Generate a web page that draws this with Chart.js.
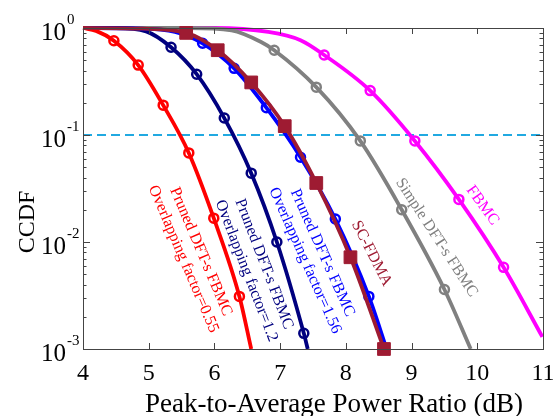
<!DOCTYPE html>
<html>
<head>
<meta charset="utf-8">
<script src="https://cdn.jsdelivr.net/npm/chart.js@4/dist/chart.umd.min.js"></script>
<style>
    html, body { margin: 0; padding: 0; background: #fff; }
</style>
</head>
<body>
<canvas id="ccdfChart" width="553" height="416"></canvas>
<script>
// axis ticks
const xTicks = [4, 5, 6, 7, 8, 9, 10, 11];
const yTicks = [1, 0.1, 0.01, 0.001];
const yTickExp = ['0', '-1', '-2', '-3'];
const threshold = 0.1;

// curves (PAPR in dB, CCDF)
const pruned055X = [4, 4.2, 4.47, 4.84, 5.22, 5.61, 5.99, 6.38, 6.56];
const pruned055Y = [1, 0.94, 0.76, 0.45, 0.19, 0.068, 0.0167, 0.0031, 0.001];

const pruned12X = [4, 4.5, 4.96, 5.34, 5.73, 6.15, 6.56, 6.95, 7.36, 7.42];
const pruned12Y = [1, 1, 0.93, 0.66, 0.37, 0.144, 0.044, 0.010, 0.0014, 0.001];

const pruned156X = [4, 4.8, 5.4, 5.82, 6.30, 6.79, 7.31, 7.84, 8.35, 8.62];
const pruned156Y = [1, 0.99, 0.92, 0.72, 0.42, 0.18, 0.062, 0.0164, 0.0031, 0.001];

const scfdmaX = [4, 4.9, 5.57, 6.05, 6.56, 7.07, 7.55, 8.07, 8.58];
const scfdmaY = [1, 0.985, 0.90, 0.62, 0.31, 0.121, 0.0356, 0.0072, 0.001];

const simpleX = [4, 5.6, 6.26, 6.71, 6.91, 7.55, 8.22, 8.85, 9.50, 9.90];
const simpleY = [1, 1, 0.95, 0.74, 0.62, 0.28, 0.088, 0.020, 0.0036, 0.001];

const fbmcX = [4, 6.0, 6.82, 7.31, 7.67, 8.37, 9.05, 9.72, 10.40, 10.99];
const fbmcY = [1, 1, 0.92, 0.77, 0.56, 0.26, 0.088, 0.025, 0.0058, 0.0013];

const series = [
    { name: 'SC-FDMA', xs: scfdmaX, ys: scfdmaY, color: '#9e1b32', marker: 'rect', lead: 2, tail: 0 },
    { name: 'Pruned 1.56', xs: pruned156X, ys: pruned156Y, color: '#0000ff', marker: 'circle', lead: 3, tail: 1 },
    { name: 'Pruned 1.2', xs: pruned12X, ys: pruned12Y, color: '#00007f', marker: 'circle', lead: 3, tail: 1 },
    { name: 'Pruned 0.55', xs: pruned055X, ys: pruned055Y, color: '#ff0000', marker: 'circle', lead: 2, tail: 1 },
    { name: 'Simple DFT-s FBMC', xs: simpleX, ys: simpleY, color: '#808080', marker: 'circle', lead: 4, tail: 1 },
    { name: 'FBMC', xs: fbmcX, ys: fbmcY, color: '#ff00ff', marker: 'circle', lead: 4, tail: 1 },
];

// curve labels: position in data units, angle in degrees
const curveLabels = [
    { lines: ['Pruned DFT-s FBMC', 'Overlapping factor=0.55'], x: 5.66, y: 0.0075, angle: 67, color: '#ff0000' },
    { lines: ['Pruned DFT-s FBMC', 'Overlapping factor=1.2'], x: 6.62, y: 0.0058, angle: 69, color: '#00007f' },
    { lines: ['Pruned DFT-s FBMC', 'Overlapping factor=1.56'], x: 7.51, y: 0.0073, angle: 66, color: '#0000ff' },
    { lines: ['SC-FDMA'], x: 8.39, y: 0.0078, angle: 63, color: '#9e1b32' },
    { lines: ['Simple DFT-s FBMC'], x: 9.38, y: 0.011, angle: 57, color: '#808080' },
    { lines: ['FBMC'], x: 10.08, y: 0.022, angle: 54, color: '#ff00ff' },
];

const serif = '"Liberation Serif", "Times New Roman", serif';

const datasets = series.map((s) => {
    const n = s.xs.length;
    const isSquare = s.marker === 'rect';
    return {
        label: s.name,
        data: s.xs.map((x, i) => ({ x: x, y: s.ys[i] })),
        borderColor: s.color,
        borderWidth: 3.8,
        cubicInterpolationMode: 'monotone',
        pointStyle: s.marker,
        pointRadius: (ctx) => (ctx.dataIndex >= s.lead && ctx.dataIndex < n - s.tail) ? (isSquare ? 9 : 4.5) : 0,
        pointBorderColor: s.color,
        pointBackgroundColor: isSquare ? s.color : 'rgba(0,0,0,0)',
        pointBorderWidth: isSquare ? 1 : 2.5,
        clip: false,
    };
});

datasets.push({
    label: 'threshold',
    data: [{ x: 4, y: threshold }, { x: 11, y: threshold }],
    borderColor: '#21a9e1',
    borderWidth: 2,
    borderDash: [9, 5],
    pointRadius: 0,
});

const framePlugin = {
    id: 'frame',
    afterDatasetsDraw(chart) {
        const { ctx, chartArea: a, scales } = chart;
        const xs = scales.x;
        const ys = scales.y;
        ctx.save();

        // box
        ctx.strokeStyle = '#444';
        ctx.lineWidth = 1;
        ctx.strokeRect(a.left + 0.5, a.top + 0.5, a.right - a.left, a.bottom - a.top);

        // ticks
        ctx.beginPath();
        xTicks.forEach((v) => {
            const px = Math.round(xs.getPixelForValue(v)) + 0.5;
            ctx.moveTo(px, a.bottom);
            ctx.lineTo(px, a.bottom - 6);
            ctx.moveTo(px, a.top);
            ctx.lineTo(px, a.top + 6);
        });
        for (let d = 0.001; d < 1; d *= 10) {
            for (let m = 1; m < 10; m++) {
                const py = Math.round(ys.getPixelForValue(d * m)) + 0.5;
                const len = m === 1 ? 7 : 3.5;
                ctx.moveTo(a.left, py);
                ctx.lineTo(a.left + len, py);
                ctx.moveTo(a.right, py);
                ctx.lineTo(a.right - len, py);
            }
        }
        ctx.stroke();

        // tick labels
        ctx.fillStyle = '#000';
        ctx.textBaseline = 'alphabetic';
        ctx.font = '24px ' + serif;
        ctx.textAlign = 'center';
        xTicks.forEach((v) => {
            ctx.fillText(String(v), xs.getPixelForValue(v), a.bottom + 31);
        });
        yTicks.forEach((v, i) => {
            const py = ys.getPixelForValue(v);
            ctx.font = '25px ' + serif;
            ctx.textAlign = 'right';
            ctx.fillText('10', 66, py + 12);
            ctx.font = '15px ' + serif;
            ctx.textAlign = 'left';
            ctx.fillText(yTickExp[i], 67, py - 4);
        });

        // axis titles
        ctx.font = '27px ' + serif;
        ctx.textAlign = 'center';
        ctx.fillText('Peak-to-Average Power Ratio (dB)', 334, 412);
        ctx.font = '24px ' + serif;
        ctx.save();
        ctx.translate(34, 222);
        ctx.rotate(-Math.PI / 2);
        ctx.fillText('CCDF', 0, 0);
        ctx.restore();

        // curve labels
        ctx.font = '16px ' + serif;
        ctx.textBaseline = 'middle';
        curveLabels.forEach((l) => {
            ctx.save();
            ctx.translate(xs.getPixelForValue(l.x), ys.getPixelForValue(l.y));
            ctx.rotate(l.angle * Math.PI / 180);
            ctx.fillStyle = l.color;
            l.lines.forEach((t, i) => {
                ctx.fillText(t, 0, (i - (l.lines.length - 1) / 2) * 19);
            });
            ctx.restore();
        });

        ctx.restore();
    },
};

new Chart(document.getElementById('ccdfChart'), {
    type: 'line',
    data: { datasets: datasets },
    options: {
        responsive: false,
        devicePixelRatio: 1,
        animation: false,
        layout: { padding: { left: 83, right: 6, top: 28, bottom: 67 } },
        scales: {
            x: { type: 'linear', min: 4, max: 11, display: false },
            y: { type: 'logarithmic', min: 0.001, max: 1, display: false },
        },
        plugins: {
            legend: { display: false },
            tooltip: { enabled: false },
        },
    },
    plugins: [framePlugin],
});
</script>
</body>
</html>
